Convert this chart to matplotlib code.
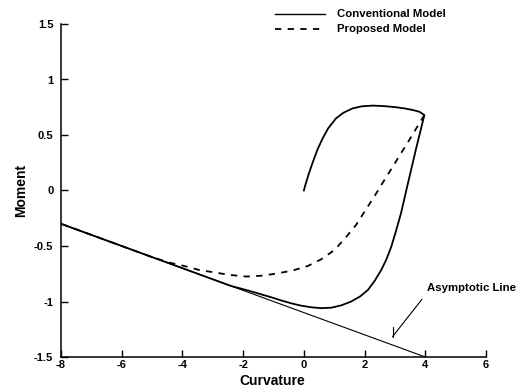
import matplotlib
matplotlib.use("Agg")
import matplotlib.pyplot as plt

plt.rcParams["font.family"] = ["Liberation Sans", "DejaVu Sans"]
plt.rcParams["axes.unicode_minus"] = False

# Conventional model: loading branch, reversal at the peak, unloading branch
conv_curvature = [0.0, 0.05, 0.15, 0.3, 0.45, 0.62, 0.8, 1.06, 1.3, 1.61, 1.9,
                  2.27, 2.65, 3.04, 3.35, 3.59, 3.8, 3.97,
                  3.7, 3.45, 3.2, 3.04, 2.88, 2.72, 2.55, 2.33, 2.11, 1.85,
                  1.56, 1.23, 0.9, 0.57, 0.24, -0.1, -0.42, -0.75, -1.1,
                  -1.45, -1.85, -2.4, -3.0, -4.0, -6.0, -8.0]
conv_moment = [0.0, 0.05, 0.14, 0.26, 0.37, 0.47, 0.56, 0.65, 0.70, 0.74, 0.758,
               0.765, 0.76, 0.75, 0.738, 0.725, 0.71, 0.68,
               0.38, 0.09, -0.205, -0.36, -0.506, -0.62, -0.716, -0.815, -0.896, -0.955,
               -1.0, -1.035, -1.056, -1.06, -1.052, -1.037, -1.016, -0.99, -0.96,
               -0.932, -0.9, -0.86, -0.8, -0.7, -0.5, -0.3]

# Proposed model: unloading branch from the same reversal point
prop_curvature = [3.97, 3.87, 3.54, 3.2, 2.93, 2.62, 2.33, 2.0, 1.72, 1.39,
                  1.01, 0.57, 0.13, -0.36, -0.86, -1.35, -1.9, -2.46, -2.9,
                  -3.45, -3.94, -4.43, -5.0, -6.0, -8.0]
prop_moment = [0.68, 0.635, 0.485, 0.335, 0.215, 0.08, -0.05, -0.19, -0.31, -0.42,
               -0.536, -0.62, -0.68, -0.72, -0.746, -0.767, -0.775, -0.76, -0.74,
               -0.716, -0.68, -0.65, -0.6, -0.5, -0.3]

# Asymptotic line
asym_curvature = [-8.0, 4.0]
asym_moment = [-0.3, -1.5]

x_ticks = [-8, -6, -4, -2, 0, 2, 4, 6]
y_ticks = [-1.5, -1, -0.5, 0, 0.5, 1, 1.5]

fig = plt.figure(figsize=(5.23, 3.88), dpi=100)
ax = fig.add_axes([61 / 523, 1 - 357 / 388, 425 / 523, 333 / 388])

ax.plot(asym_curvature, asym_moment, color="black", lw=0.8)
ax.plot(conv_curvature, conv_moment, color="black", lw=1.3,
        solid_joinstyle="round")
ax.plot(prop_curvature, prop_moment, color="black", lw=1.3,
        linestyle=(0, (3.5, 3.5)))

ax.set_xlim(-8, 6)
ax.set_ylim(-1.5, 1.5)
ax.set_xticks(x_ticks)
ax.set_yticks(y_ticks)
ax.set_xticklabels([f"{v:g}" for v in x_ticks])
ax.set_yticklabels([f"{v:g}" for v in y_ticks])

for side in ("top", "right"):
    ax.spines[side].set_visible(False)
for side in ("left", "bottom"):
    ax.spines[side].set_linewidth(1.1)

ax.tick_params(axis="both", direction="in", length=5, width=1.0,
               labelsize=8)
ax.tick_params(axis="y", pad=5.5)
ax.tick_params(axis="x", pad=2.5)
for lab in ax.get_xticklabels() + ax.get_yticklabels():
    lab.set_fontweight("bold")

ax.set_xlabel("Curvature", fontsize=10, fontweight="bold")
ax.set_ylabel("Moment", fontsize=10, fontweight="bold")
ax.xaxis.set_label_coords(0.496, -0.052)
ax.yaxis.set_label_coords(-0.078, 0.5)

# Legend drawn as line samples with text next to them
for y, style, label in [(1.030, "-", "Conventional Model"),
                        (0.985, (0, (3.5, 3.5)), "Proposed Model")]:
    ax.plot([0.5035, 0.621], [y, y], transform=ax.transAxes, color="black",
            lw=1.0 if style == "-" else 1.3, linestyle=style, clip_on=False)
    ax.text(0.649, y, label, transform=ax.transAxes, fontsize=8.2,
            fontweight="bold", va="center", ha="left")

# Annotation pointing at the asymptotic line
ax.annotate("Asymptotic Line", xy=(2.92, -1.317), xytext=(4.05, -0.88),
            fontsize=8.2, fontweight="bold", ha="left", va="center",
            arrowprops=dict(arrowstyle="-", color="black", lw=0.8,
                            shrinkA=3, shrinkB=0,
                            relpos=(0.0, 0.0)))
ax.plot([2.92, 2.92], [-1.23, -1.317], color="black", lw=0.8)

fig.savefig("out.png", dpi=100)
